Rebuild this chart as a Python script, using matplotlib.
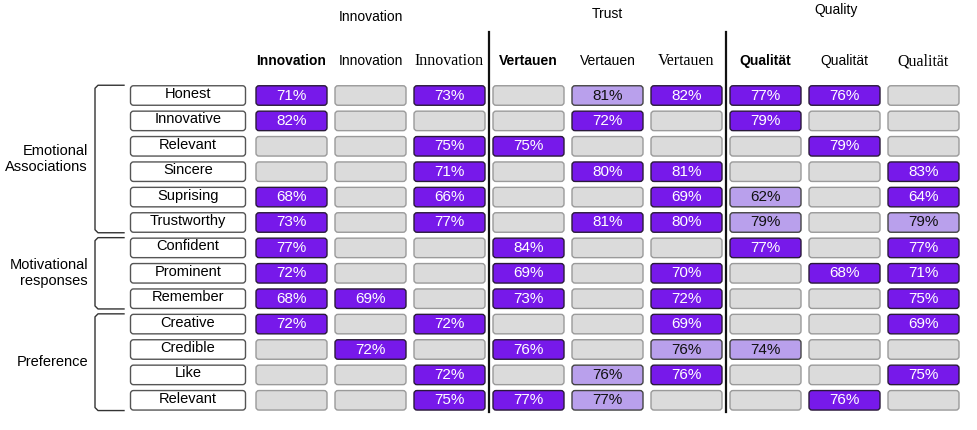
import numpy as np
import matplotlib
matplotlib.use("Agg")
import matplotlib.pyplot as plt
from matplotlib.patches import FancyBboxPatch

# data
groups = ["Innovation", "Trust", "Quality"]
col_names = ["Innovation", "Innovation", "Innovation",
             "Vertauen", "Vertauen", "Vertauen",
             "Qualität", "Qualität", "Qualität"]
row_names = ["Honest", "Innovative", "Relevant", "Sincere", "Suprising",
             "Trustworthy", "Confident", "Prominent", "Remember",
             "Creative", "Credible", "Like", "Relevant"]
row_groups = [("Emotional\nAssociations", 0, 5),
              ("Motivational\nresponses", 6, 8),
              ("Preference", 9, 12)]

# 0 = empty cell
values = [
    [71, 0, 73, 0, 81, 82, 77, 76, 0],
    [82, 0, 0, 0, 72, 0, 79, 0, 0],
    [0, 0, 75, 75, 0, 0, 0, 79, 0],
    [0, 0, 71, 0, 80, 81, 0, 0, 83],
    [68, 0, 66, 0, 0, 69, 62, 0, 64],
    [73, 0, 77, 0, 81, 80, 79, 0, 79],
    [77, 0, 0, 84, 0, 0, 77, 0, 77],
    [72, 0, 0, 69, 0, 70, 0, 68, 71],
    [68, 69, 0, 73, 0, 72, 0, 0, 75],
    [72, 0, 72, 0, 0, 69, 0, 0, 69],
    [0, 72, 0, 76, 0, 76, 74, 0, 0],
    [0, 0, 72, 0, 76, 76, 0, 0, 75],
    [0, 0, 75, 77, 77, 0, 0, 76, 0],
]
# 1 = light shade
light = [
    [0, 0, 0, 0, 1, 0, 0, 0, 0],
    [0, 0, 0, 0, 0, 0, 0, 0, 0],
    [0, 0, 0, 0, 0, 0, 0, 0, 0],
    [0, 0, 0, 0, 0, 0, 0, 0, 0],
    [0, 0, 0, 0, 0, 0, 1, 0, 0],
    [0, 0, 0, 0, 0, 0, 1, 0, 1],
    [0, 0, 0, 0, 0, 0, 0, 0, 0],
    [0, 0, 0, 0, 0, 0, 0, 0, 0],
    [0, 0, 0, 0, 0, 0, 0, 0, 0],
    [0, 0, 0, 0, 0, 0, 0, 0, 0],
    [0, 0, 0, 0, 0, 1, 1, 0, 0],
    [0, 0, 0, 0, 1, 0, 0, 0, 0],
    [0, 0, 0, 0, 1, 0, 0, 0, 0],
]

DARK = "#7719EA"
LIGHT = "#B9A0EC"
GRAY = "#DBDBDB"

fig = plt.figure(figsize=(9.77, 4.30), dpi=100)
ax = fig.add_axes([0, 0, 1, 1])
ax.set_xlim(0, 977)
ax.set_ylim(430, 0)
ax.axis("off")

x0, dx, cw = 291.5, 79, 71
y0, dy, ch = 95.5, 25.4, 19.5
lab_x, lab_w = 188, 115

def cx(j):
    return x0 + j * dx

def cy(i):
    return y0 + i * dy

def box(x, y, w, h, fc, ec, lw=1.0):
    p = FancyBboxPatch((x - w / 2, y - h / 2), w, h,
                       boxstyle="round,pad=0,rounding_size=3",
                       fc=fc, ec=ec, lw=lw)
    ax.add_patch(p)

# header
group_pos = [(cx(1), 17), (cx(4), 14), (cx(7) - 8, 10)]
for g, (x, y) in zip(groups, group_pos):
    ax.text(x, y, g, ha="center", va="center", fontsize=10,
            family="Liberation Sans")
styles = [dict(family="Liberation Sans", weight="bold", fontsize=10),
          dict(family="Liberation Sans", fontsize=10),
          dict(family="Liberation Serif", fontsize=11.5)]
for j, c in enumerate(col_names):
    ax.text(cx(j), 61, c, ha="center", va="center", **styles[j % 3])

# separators
for j in (3, 6):
    xs = (cx(j - 1) + cx(j)) / 2
    ax.plot([xs, xs], [32, 412], color="#111111", lw=1.6)

# cells
for i, r in enumerate(row_names):
    box(lab_x, cy(i), lab_w, ch, "white", "#555555", 1.0)
    ax.text(lab_x, cy(i) - 1.5, r, ha="center", va="center", fontsize=10.5,
            family="Liberation Sans")
    for j in range(len(col_names)):
        v = values[i][j]
        if v == 0:
            box(cx(j), cy(i), cw, ch, GRAY, "#9A9A9A", 1.0)
        elif light[i][j]:
            box(cx(j), cy(i), cw, ch, LIGHT, "#444444", 1.0)
            ax.text(cx(j), cy(i), f"{v}%", ha="center", va="center",
                    fontsize=11, color="#111111", family="Liberation Sans")
        else:
            box(cx(j), cy(i), cw, ch, DARK, "#2a1a3a", 1.0)
            ax.text(cx(j), cy(i), f"{v}%", ha="center", va="center",
                    fontsize=11, color="white", family="Liberation Sans")

# brackets + group labels
for name, a, b in row_groups:
    top = cy(a) - ch / 2 - 0.5
    bot = cy(b) + ch / 2 + 0.5
    ax.plot([124, 98, 95, 95, 98, 124],
            [top, top, top + 3, bot - 3, bot, bot],
            color="#333333", lw=1.0)
    ax.text(88, (top + bot) / 2, name, ha="right", va="center",
            fontsize=10.5, family="Liberation Sans", linespacing=1.2)

fig.savefig("out.png", dpi=100)
